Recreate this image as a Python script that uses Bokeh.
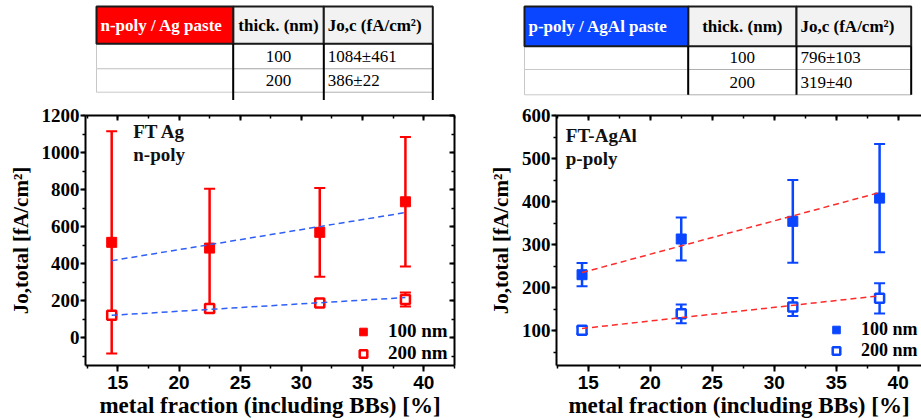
from bokeh.plotting import figure
from bokeh.models import (Range1d, LinearAxis, SingleIntervalTicker, Whisker, TeeHead,
                          ColumnDataSource, Legend, LegendItem, Label)
from bokeh.layouts import column, row
from bokeh.embed import file_html
from bokeh.resources import INLINE
from bokeh.core.properties import value

# ---------------- data ----------------
metal_fraction = [14.5, 22.5, 31.5, 38.5]

ag_100 = [515, 484, 569, 734]
ag_100_err = [600, 320, 240, 350]
ag_200 = [121, 158, 187, 206]
ag_200_err = [8, 20, 8, 38]
fit_x = [14.5, 38.5]
ag_fit_100 = [416, 676]
ag_fit_200 = [121, 217]

agal_100 = [230, 313, 354, 408]
agal_100_err = [27, 50, 96, 126]
agal_200 = [101, 139, 155, 175]
agal_200_err = [8, 22, 21, 35]
agal_fit_100 = [235, 421]
agal_fit_200 = [105, 181]

series_labels = ["100 nm", "200 nm"]
panel_notes_ag = ["FT Ag", "n-poly"]
panel_notes_agal = ["FT-AgAl", "p-poly"]

table_titles = ["n-poly / Ag paste", "p-poly / AgAl paste"]
table_columns = ["thick. (nm)", "Jo,c (fA/cm\u00b2)"]
thickness = ["100", "200"]
joc_ag = ["1084\u00b1461", "386\u00b122"]
joc_agal = ["796\u00b1103", "319\u00b140"]

x_label = "metal fraction (including BBs) [%]"
y_label = "Jo,total [fA/cm\u00b2]"

SERIF = "Liberation Serif"
SANS = "Liberation Sans"
RED = "#ff0000"
BLUE = "#0a46ff"

# ---------------- tables (top strip) ----------------
top = figure(width=921, height=100, x_range=Range1d(0, 921), y_range=Range1d(100, 0),
             output_backend="svg", toolbar_location=None, min_border=0,
             x_axis_location=None, y_axis_location=None)
top.grid.visible = False
top.outline_line_color = None


def draw_table(p, xs, ys, y_end, title, fill, vals):
    x0, x1, x2, x3 = xs
    t0, t1, t2, t3 = ys
    p.quad(left=[x0, x0], right=[x1, x1], top=[t1, t2], bottom=[t2, t3],
           fill_color="white", line_color="#c8c8c8", line_width=1)
    p.quad(left=[x1, x2, x1, x2], right=[x2, x3, x2, x3], top=[t1, t1, t2, t2],
           bottom=[t2, t2, t3, t3], fill_color="white", line_color="#b0b0b0", line_width=1)
    p.quad(left=[x1, x2], right=[x2, x3], top=[t0, t0], bottom=[t1, t1],
           fill_color="#f2f2f2", line_color="#1a1a1a", line_width=2)
    p.quad(left=[x0], right=[x1], top=[t0], bottom=[t1],
           fill_color=fill, line_color="#1a1a1a", line_width=2)
    p.segment(x0=[x1, x2, x3], y0=[t1] * 3, x1=[x1, x2, x3], y1=[y_end] * 3,
              line_color="black", line_width=2)
    p.text(x=[x0 + 4], y=[(t0 + t1) / 2], text=[title], text_color="white",
           text_font=value(SERIF), text_font_style="bold", text_font_size="17px",
           text_baseline="middle", text_align="left")
    p.text(x=[(x1 + x2) / 2], y=[(t0 + t1) / 2], text=[table_columns[0]], text_color="black",
           text_font=value(SERIF), text_font_style="bold", text_font_size="17px",
           text_baseline="middle", text_align="center")
    p.text(x=[x2 + 4], y=[(t0 + t1) / 2], text=[table_columns[1]], text_color="black",
           text_font=value(SERIF), text_font_style="bold", text_font_size="17px",
           text_baseline="middle", text_align="left")
    p.text(x=[(x1 + x2) / 2] * 2, y=[(t1 + t2) / 2, (t2 + t3) / 2], text=thickness,
           text_color="black", text_font=value(SERIF), text_font_size="17px",
           text_baseline="middle", text_align="center")
    p.text(x=[x2 + 4] * 2, y=[(t1 + t2) / 2, (t2 + t3) / 2], text=vals,
           text_color="black", text_font=value(SERIF), text_font_size="17px",
           text_baseline="middle", text_align="left")


draw_table(top, (96, 232.7, 323.3, 432.3), (6, 43.3, 68.3, 91.7), 100,
           table_titles[0], RED, joc_ag)
draw_table(top, (524, 687.7, 796, 910.7), (6, 45.7, 69, 94.3), 94.3,
           table_titles[1], BLUE, joc_agal)


# ---------------- plots ----------------
def make_plot(width, xr, yr, y_interval, min_left, min_right, min_bottom, right_axis):
    p = figure(width=width, height=320, x_range=Range1d(*xr), y_range=Range1d(*yr),
               output_backend="svg", toolbar_location=None,
               min_border_left=min_left, min_border_right=min_right,
               min_border_top=15, min_border_bottom=min_bottom,
               x_axis_location=None, y_axis_location=None)
    p.grid.visible = False
    p.outline_line_color = None
    xt = SingleIntervalTicker(interval=5, num_minor_ticks=2)
    yt = SingleIntervalTicker(interval=y_interval, num_minor_ticks=2)
    common = dict(axis_line_width=2, major_tick_line_width=2, minor_tick_line_width=1.5,
                  axis_line_color="black", major_tick_line_color="black",
                  minor_tick_line_color="black")
    xa = LinearAxis(ticker=xt, axis_label=x_label, major_tick_out=6, major_tick_in=0,
                    minor_tick_out=3, minor_tick_in=0, major_label_standoff=4,
                    major_label_text_font=SANS, major_label_text_font_style="bold",
                    major_label_text_font_size="19px", major_label_text_color="black",
                    axis_label_text_font=SERIF, axis_label_text_font_style="bold",
                    axis_label_text_font_size="23px", axis_label_text_color="black",
                    axis_label_standoff=1, **common)
    p.add_layout(xa, "below")
    ya = LinearAxis(ticker=yt, axis_label=y_label, major_tick_out=5, major_tick_in=0,
                    minor_tick_out=3, minor_tick_in=0, major_label_standoff=1,
                    major_label_text_font=SERIF, major_label_text_font_style="bold",
                    major_label_text_font_size="19px", major_label_text_color="black",
                    axis_label_text_font=SERIF, axis_label_text_font_style="bold",
                    axis_label_text_font_size="21px", axis_label_text_color="black",
                    axis_label_standoff=6, **common)
    p.add_layout(ya, "left")
    hidden = dict(major_label_text_font_size="1px", major_label_text_color=None,
                  major_label_standoff=0, major_tick_in=5, major_tick_out=0,
                  minor_tick_in=3, minor_tick_out=0)
    ta = LinearAxis(ticker=xt, **hidden, **common)
    p.add_layout(ta, "above")
    if right_axis:
        ra = LinearAxis(ticker=yt, **hidden, **common)
        p.add_layout(ra, "right")
    return p


def add_series(p, y100, e100, y200, e200, f100, f200, color, fit_color, legend_loc,
               legend_font, notes, note_pos):
    for ys, es in ((y100, e100), (y200, e200)):
        src = ColumnDataSource(dict(x=metal_fraction,
                                    upper=[v + e for v, e in zip(ys, es)],
                                    lower=[v - e for v, e in zip(ys, es)]))
        w = Whisker(source=src, base="x", upper="upper", lower="lower",
                    line_color=color, line_width=2.5,
                    upper_head=TeeHead(size=11, line_color=color, line_width=2),
                    lower_head=TeeHead(size=11, line_color=color, line_width=2))
        p.add_layout(w)
    r1 = p.scatter(metal_fraction, y100, marker="square", size=10,
                   fill_color=color, line_color=color)
    r2 = p.scatter(metal_fraction, y200, marker="square", size=9,
                   fill_color="white", line_color=color, line_width=2.5)
    p.line(fit_x, f100, line_color=fit_color, line_width=1.5, line_dash="6 4")
    p.line(fit_x, f200, line_color=fit_color, line_width=1.5, line_dash="6 4")
    leg = Legend(items=[LegendItem(label=series_labels[0], renderers=[r1]),
                        LegendItem(label=series_labels[1], renderers=[r2])],
                 location=legend_loc, border_line_color=None, background_fill_alpha=0,
                 padding=0, margin=0, spacing=0, glyph_width=20, glyph_height=19,
                 label_height=19, label_standoff=15,
                 label_text_font=SERIF, label_text_font_style="bold",
                 label_text_font_size=legend_font, label_text_color="black")
    p.add_layout(leg)
    for txt, (lx, ly) in zip(notes, note_pos):
        p.add_layout(Label(x=lx, y=ly, text=txt, text_font=SERIF, text_font_style="bold",
                           text_font_size="19px", text_baseline="middle", text_color="#111111"))


left = make_plot(460, (12.36, 42.51), (-150, 1200), 200, 85, 6, 51, True)
add_series(left, ag_100, ag_100_err, ag_200, ag_200_err, ag_fit_100, ag_fit_200,
           RED, "#2f5ff5", (268, 1), "19px", panel_notes_ag, [(16.26, 1115), (16.26, 987)])

right = make_plot(461, (12.44, 41.88), (19, 600), 100, 96, 0, 49, False)
add_series(right, agal_100, agal_100_err, agal_200, agal_200_err, agal_fit_100, agal_fit_200,
           BLUE, "#ff2a2a", (270, 4), "18px", panel_notes_agal, [(13.19, 554.5), (13.19, 500)])

layout = column(top, row(left, right))

open("out.html", "w").write(file_html(layout, INLINE))
